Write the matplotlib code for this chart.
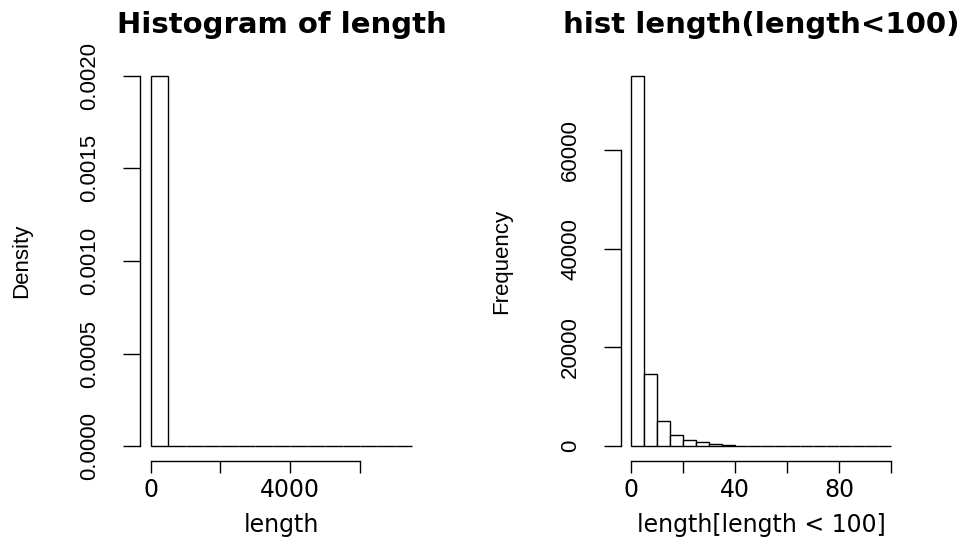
import numpy as np
import matplotlib.pyplot as plt

# --- data ---
# left: density histogram of all lengths, bins of 500
len_edges = np.arange(0, 7501, 500)
len_density = [0.0019986, 5.1e-7, 2.6e-7, 1.4e-7, 9e-8, 6e-8, 4e-8, 3e-8,
               2e-8, 1e-8, 1e-8, 5e-9, 5e-9, 3e-9, 2e-9]

# right: frequency histogram of lengths < 100, bins of 5
short_edges = np.arange(0, 101, 5)
short_counts = [75000, 14600, 5200, 2300, 1350, 750, 350, 200, 130, 90,
                60, 45, 35, 25, 20, 15, 12, 10, 8, 6]

left_xticks = [0, 2000, 4000, 6000]
left_xlabels = ['0', '', '4000', '']
left_yticks = [0, 0.0005, 0.0010, 0.0015, 0.0020]
left_ylabels = ['0.0000', '0.0005', '0.0010', '0.0015', '0.0020']

right_xticks = [0, 20, 40, 60, 80, 100]
right_xlabels = ['0', '', '40', '', '80', '']
right_yticks = [0, 20000, 40000, 60000]
right_ylabels = ['0', '20000', '40000', '60000']

# --- style ---
plt.rcParams['font.family'] = ['DejaVu Sans']
narrow = ['Liberation Sans', 'DejaVu Sans']   # rotated text looks condensed
tick_fs = 17
rot_fs = 16
title_fs = 21

fig = plt.figure(figsize=(9.71, 5.37), dpi=100)
ax1 = fig.add_axes([140.2 / 971, 76 / 537, 282.6 / 971, 400 / 537])
ax2 = fig.add_axes([620.6 / 971, 76 / 537, 280.8 / 971, 400 / 537])


def r_hist(ax, edges, heights, xticks, xlabels, yticks, ylabels,
           title, xlab, ylab):
    widths = np.diff(edges)
    ax.bar(edges[:-1], heights, width=widths, align='edge',
           facecolor='white', edgecolor='black', linewidth=1.0)
    span = edges[-1] - edges[0]
    ax.set_xlim(edges[0] - 0.04 * span, edges[-1] + 0.04 * span)
    top = max(heights)
    ax.set_ylim(-0.04 * top, 1.04 * top)

    for s in ['top', 'right']:
        ax.spines[s].set_visible(False)
    ax.spines['left'].set_bounds(yticks[0], yticks[-1])
    ax.spines['bottom'].set_bounds(xticks[0], xticks[-1])
    ax.spines['left'].set_linewidth(1.0)
    ax.spines['bottom'].set_linewidth(1.0)

    ax.set_xticks(xticks)
    ax.set_xticklabels(xlabels, fontsize=tick_fs)
    ax.set_yticks(yticks)
    ax.set_yticklabels(ylabels, fontsize=rot_fs, family=narrow,
                       rotation=90, va='center')
    ax.tick_params(axis='x', length=8.5, width=1.0, pad=4)
    ax.tick_params(axis='y', length=12.5, width=1.0, pad=16)

    ax.set_title(title, fontsize=title_fs, fontweight='bold',
                 y=1.091, va='center', pad=0)
    ax.set_xlabel(xlab, fontsize=tick_fs)
    ax.xaxis.set_label_coords(0.5, -0.16)
    ax.xaxis.label.set_verticalalignment('center')
    ax.set_ylabel(ylab, fontsize=rot_fs, family=narrow)


r_hist(ax1, len_edges, len_density, left_xticks, left_xlabels,
       left_yticks, left_ylabels, 'Histogram of length', 'length', 'Density')
ax1.yaxis.set_label_coords((22 - 140.2) / 282.6, 0.5)
ax1.yaxis.label.set_verticalalignment('center')

r_hist(ax2, short_edges, short_counts, right_xticks, right_xlabels,
       right_yticks, right_ylabels, 'hist length(length<100)',
       'length[length < 100]', 'Frequency')
ax2.yaxis.set_label_coords((502 - 620.6) / 280.8, 0.5)
ax2.yaxis.label.set_verticalalignment('center')

fig.savefig('out.png', dpi=100)
